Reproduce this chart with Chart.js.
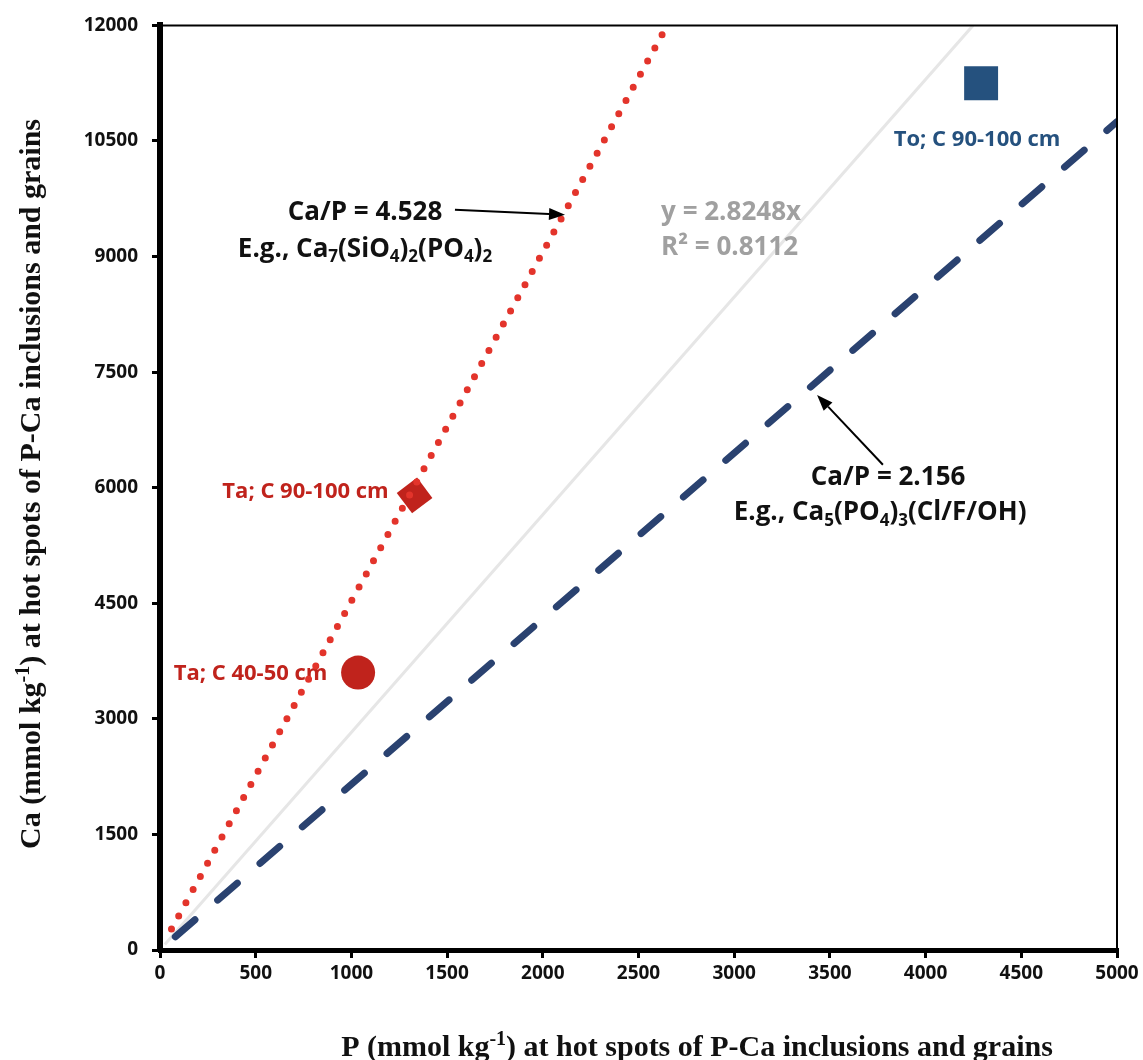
<!DOCTYPE html>
<html lang="en">
<head>
  <meta charset="UTF-8">
  <title>Ca vs P at hot spots</title>
  <script src="https://cdn.jsdelivr.net/npm/chart.js"></script>
  <style>
    html, body { margin: 0; padding: 0; background: #fff; }
    #wrap { width: 1143px; height: 1060px; }
  </style>
</head>
<body>
  <div id="wrap"><canvas id="chart" width="1143" height="1060"></canvas></div>

  <script>
    // reference lines (end points)
    const silicateP = [60, 2650];
    const silicateCa = [272, 12000];
    const apatiteP = [80, 5000];
    const apatiteCa = [172, 10750];
    const trendP = [25, 4248];
    const trendCa = [71, 12000];

    // hot spots
    const spotLabels = ['Ta; C 40-50 cm', 'Ta; C 90-100 cm', 'To; C 90-100 cm'];
    const spotP = [1035, 1330, 4290];
    const spotCa = [3600, 5900, 11250];

    const xTicks = [0, 500, 1000, 1500, 2000, 2500, 3000, 3500, 4000, 4500, 5000];
    const yTicks = [0, 1500, 3000, 4500, 6000, 7500, 9000, 10500, 12000];

    const RED = '#c0231c';
    const BLUE = '#25517e';
    const SANS = '"Open Sans", sans-serif';
    const SERIF = '"Liberation Serif", "Times New Roman", serif';

    const pts = (xs, ys) => xs.map((x, i) => ({ x, y: ys[i] }));

    // draw text made of parts: [text, 0 normal | 1 sub | 2 sup]
    function rich(ctx, parts, x, y, align, size, family, color) {
      const font = s => `bold ${s}px ${family}`;
      const small = Math.round(size * 0.65);
      let total = 0;
      parts.forEach(([t, m]) => {
        ctx.font = font(m ? small : size);
        total += ctx.measureText(t).width;
      });
      let cx = align === 'center' ? x - total / 2 : align === 'right' ? x - total : x;
      ctx.fillStyle = color;
      ctx.textAlign = 'left';
      ctx.textBaseline = 'alphabetic';
      parts.forEach(([t, m]) => {
        ctx.font = font(m ? small : size);
        const dy = m === 1 ? size * 0.22 : m === 2 ? -size * 0.38 : 0;
        ctx.fillText(t, cx, y + dy);
        cx += ctx.measureText(t).width;
      });
    }

    function arrow(ctx, x1, y1, x2, y2) {
      const a = Math.atan2(y2 - y1, x2 - x1);
      const hl = 16, hw = 6;
      ctx.save();
      ctx.strokeStyle = '#000';
      ctx.fillStyle = '#000';
      ctx.lineWidth = 2;
      ctx.beginPath();
      ctx.moveTo(x1, y1);
      ctx.lineTo(x2 - Math.cos(a) * hl, y2 - Math.sin(a) * hl);
      ctx.stroke();
      ctx.beginPath();
      ctx.moveTo(x2, y2);
      ctx.lineTo(x2 - Math.cos(a) * hl - Math.sin(a) * hw, y2 - Math.sin(a) * hl + Math.cos(a) * hw);
      ctx.lineTo(x2 - Math.cos(a) * hl + Math.sin(a) * hw, y2 - Math.sin(a) * hl - Math.cos(a) * hw);
      ctx.closePath();
      ctx.fill();
      ctx.restore();
    }

    const decor = {
      id: 'decor',
      beforeDatasetsDraw(chart) {
        const { ctx, scales: { x, y } } = chart;
        ctx.save();
        rich(ctx, [[spotLabels[0], 0]], x.getPixelForValue(875), y.getPixelForValue(3500), 'right', 22, SANS, RED);
        rich(ctx, [[spotLabels[1], 0]], x.getPixelForValue(1195), y.getPixelForValue(5870), 'right', 22, SANS, RED);
        rich(ctx, [[spotLabels[2], 0]], x.getPixelForValue(4269), y.getPixelForValue(10440), 'center', 22, SANS, BLUE);
        ctx.restore();
      },
      afterDraw(chart) {
        const { ctx, chartArea: a, scales: { x, y } } = chart;
        ctx.save();
        // top and right frame
        ctx.strokeStyle = '#000';
        ctx.lineWidth = 2;
        ctx.beginPath();
        ctx.moveTo(a.left, a.top);
        ctx.lineTo(a.right, a.top);
        ctx.lineTo(a.right, a.bottom);
        ctx.stroke();

        const px = v => x.getPixelForValue(v);
        const py = v => y.getPixelForValue(v);

        rich(ctx, [['Ca/P = 4.528', 0]], px(1071), py(9470), 'center', 26, SANS, '#111');
        rich(ctx, [['E.g., Ca', 0], ['7', 1], ['(SiO', 0], ['4', 1], [')', 0], ['2', 1], ['(PO', 0], ['4', 1], [')', 0], ['2', 1]],
          px(1071), py(9000), 'center', 26, SANS, '#111');
        arrow(ctx, px(1541), py(9608), px(2116), py(9543));

        rich(ctx, [['y = 2.8248x', 0]], px(2618), py(9470), 'left', 26, SANS, '#a0a0a0');
        rich(ctx, [['R² = 0.8112', 0]], px(2618), py(9020), 'left', 26, SANS, '#a0a0a0');

        rich(ctx, [['Ca/P = 2.156', 0]], px(3804), py(6040), 'center', 26, SANS, '#111');
        rich(ctx, [['E.g., Ca', 0], ['5', 1], ['(PO', 0], ['4', 1], [')', 0], ['3', 1], ['(Cl/F/OH)', 0]],
          px(3762), py(5580), 'center', 26, SANS, '#111');
        arrow(ctx, px(3777), py(6298), px(3433), py(7203));

        // axis titles
        rich(ctx, [['P (mmol kg', 0], ['-1', 2], [') at hot spots of P-Ca inclusions and grains', 0]],
          697, 1056, 'center', 30, SERIF, '#111');
        ctx.save();
        ctx.translate(40, 484);
        ctx.rotate(-Math.PI / 2);
        rich(ctx, [['Ca (mmol kg', 0], ['-1', 2], [') at hot spots of P-Ca inclusions and grains', 0]],
          0, 0, 'center', 30, SERIF, '#111');
        ctx.restore();
        ctx.restore();
      }
    };

    const tickFont = { family: SANS, size: 19, weight: 'bold' };

    new Chart(document.getElementById('chart'), {
      type: 'scatter',
      data: {
        datasets: [
          {
            data: pts(silicateP, silicateCa), showLine: true, pointRadius: 0,
            borderColor: '#e3342b', borderWidth: 7, borderDash: [0, 15], borderCapStyle: 'round'
          },
          {
            data: pts(apatiteP, apatiteCa), showLine: true, pointRadius: 0,
            borderColor: '#2a4270', borderWidth: 7, borderDash: [26, 30], borderCapStyle: 'round'
          },
          {
            data: pts(trendP, trendCa), showLine: true, pointRadius: 0,
            borderColor: '#e6e6e6', borderWidth: 3
          },
          {
            data: [{ x: spotP[0], y: spotCa[0] }], pointStyle: 'circle', pointRadius: 17,
            backgroundColor: RED, borderColor: RED, borderWidth: 0
          },
          {
            data: [{ x: spotP[1], y: spotCa[1] }], pointStyle: 'rectRot', pointRadius: 18, rotation: 8,
            backgroundColor: RED, borderColor: RED, borderWidth: 0
          },
          {
            data: [{ x: spotP[2], y: spotCa[2] }], pointStyle: 'rect', pointRadius: 24,
            backgroundColor: BLUE, borderColor: BLUE, borderWidth: 0
          }
        ]
      },
      options: {
        responsive: false,
        animation: false,
        layout: { padding: { top: 22, right: 26, left: 0, bottom: 0 } },
        plugins: { legend: { display: false }, tooltip: { enabled: false } },
        scales: {
          x: {
            type: 'linear', min: 0, max: 5000,
            afterBuildTicks: s => { s.ticks = xTicks.map(v => ({ value: v })); },
            afterFit: s => { s.height = 110; },
            border: { display: true, color: '#000', width: 5 },
            grid: { drawOnChartArea: false, drawTicks: true, tickLength: 8, color: '#000', lineWidth: 3 },
            ticks: { color: '#111', font: tickFont, padding: 4, maxRotation: 0, callback: v => String(v) }
          },
          y: {
            type: 'linear', min: 0, max: 12000,
            afterBuildTicks: s => { s.ticks = yTicks.map(v => ({ value: v })); },
            afterFit: s => { s.width = 160; },
            border: { display: true, color: '#000', width: 6 },
            grid: { drawOnChartArea: false, drawTicks: true, tickLength: 8, color: '#000', lineWidth: 3 },
            ticks: { color: '#111', font: tickFont, padding: 14, callback: v => String(v) }
          }
        }
      },
      plugins: [decor]
    });
  </script>
</body>
</html>
